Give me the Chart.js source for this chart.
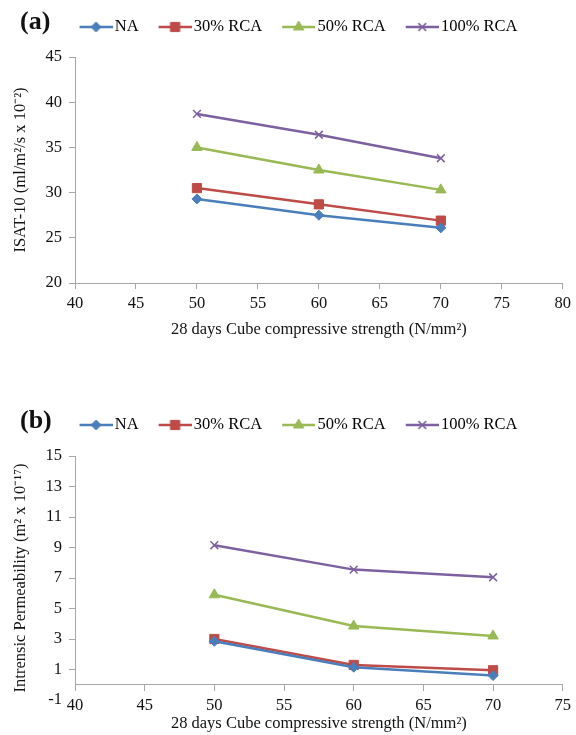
<!DOCTYPE html>
<html>
<head>
<meta charset="utf-8">
<script src="https://cdn.jsdelivr.net/npm/chart.js@4.4.1/dist/chart.umd.min.js"></script>
<style>
  html, body { margin: 0; padding: 0; background: #fff; }
  body { width: 576px; height: 735px; position: relative; overflow: hidden; font-family: 'Liberation Serif', 'Times New Roman', serif; }
  .panel { position: absolute; left: 0; width: 576px; }
  .tag { position: absolute; left: 20px; font-weight: bold; font-size: 26px; line-height: 26px; color: #111; }
</style>
</head>
<body>
<div class="panel" style="top:0;height:370px">
  <canvas id="isat"></canvas>
  <div class="tag" style="top:8px">(a)</div>
</div>
<div class="panel" style="top:398px;height:337px">
  <canvas id="perm"></canvas>
  <div class="tag" style="top:9px">(b)</div>
</div>
<script>
// cube strength at 28 days (N/mm2)
const strength = [50, 60, 70];
const mixNames = ['NA', '30% RCA', '50% RCA', '100% RCA'];

// ISAT-10 (ml/m2/s x 10^-2)
const isatNA = [29.3, 27.5, 26.1];
const isat30 = [30.5, 28.7, 26.9];
const isat50 = [35.0, 32.5, 30.3];
const isat100 = [38.7, 36.4, 33.8];

// intrinsic permeability (m2 x 10^-17)
const permNA = [2.85, 1.15, 0.6];
const perm30 = [3.0, 1.3, 0.95];
const perm50 = [5.9, 3.85, 3.2];
const perm100 = [9.15, 7.55, 7.05];

const isatTicks = [20, 25, 30, 35, 40, 45];
const permTicks = [-1, 1, 3, 5, 7, 9, 11, 13, 15];

const AXIS = '#a6a6a6';
const TEXT = '#111';
const FONT = "'Liberation Serif', 'Times New Roman', serif";
const FS = 16.5;
const HALF_LINE = FS * 1.2 / 2;
const PAD_LEFT = 18;
const Y_AXIS_W = 57;

Chart.defaults.font.family = FONT;
Chart.defaults.font.size = FS;
Chart.defaults.color = TEXT;

const styles = [
  { color: '#4A7EBB', pointStyle: 'rectRot', radius: 5, borderWidth: 1 },
  { color: '#BE4B48', pointStyle: 'rect', radius: 6.5, borderWidth: 1 },
  { color: '#98B954', pointStyle: 'triangle', radius: 6, borderWidth: 1 },
  { color: '#7D60A0', pointStyle: 'crossRot', radius: 5.5, borderWidth: 1.5 }
];

// legend swatch: short line with the marker in the middle
const ICON_BOX = 37, ICON_W = 49, ICON_H = 16, LINE_LEN = 33;
function legendIcon(st) {
  const c = document.createElement('canvas');
  c.width = ICON_W;
  c.height = ICON_H;
  const ctx = c.getContext('2d');
  ctx.strokeStyle = st.color;
  ctx.lineWidth = 2.5;
  ctx.beginPath();
  ctx.moveTo(ICON_W - LINE_LEN, ICON_H / 2);
  ctx.lineTo(ICON_W, ICON_H / 2);
  ctx.stroke();
  ctx.fillStyle = st.color;
  ctx.lineWidth = st.borderWidth;
  Chart.helpers.drawPoint(ctx, { pointStyle: st.pointStyle, radius: st.radius, rotation: 0, borderWidth: st.borderWidth },
    ICON_W - LINE_LEN / 2, ICON_H / 2);
  return c;
}
const icons = styles.map(legendIcon);

function makeDatasets(series) {
  return series.map((vals, i) => ({
    label: mixNames[i],
    data: strength.map((x, j) => ({ x: x, y: vals[j] })),
    borderColor: styles[i].color,
    backgroundColor: styles[i].color,
    borderWidth: 2.5,
    tension: 0,
    pointStyle: styles[i].pointStyle,
    pointRadius: styles[i].radius,
    pointBorderWidth: styles[i].borderWidth,
    pointBackgroundColor: styles[i].color,
    pointBorderColor: styles[i].color
  }));
}

function legendOptions() {
  return {
    position: 'top',
    align: 'center',
    labels: {
      usePointStyle: true,
      pointStyleWidth: ICON_BOX,
      padding: 10,
      font: { size: FS },
      color: TEXT,
      generateLabels: chart => chart.data.datasets.map((ds, i) => ({
        text: ds.label,
        pointStyle: icons[i],
        datasetIndex: i,
        hidden: false,
        lineWidth: 0,
        fillStyle: ds.borderColor,
        strokeStyle: ds.borderColor
      }))
    }
  };
}

// empty subtitle used as a gap between legend and plot
function spacer(h) {
  return { display: true, text: '', position: 'top', weight: 100, padding: 0, font: { size: 10, lineHeight: h / 10 } };
}

function tickGrid(hideValue) {
  return {
    display: true,
    drawOnChartArea: false,
    drawTicks: true,
    tickLength: 6,
    color: ctx => (ctx.tick && ctx.tick.value === hideValue) ? 'rgba(0,0,0,0)' : AXIS
  };
}

// y title centre sits about 21px from the left edge
const yTitlePad = { top: 21 - PAD_LEFT - HALF_LINE, bottom: 0 };

new Chart(document.getElementById('isat'), {
  type: 'line',
  data: { datasets: makeDatasets([isatNA, isat30, isat50, isat100]) },
  options: {
    responsive: true,
    maintainAspectRatio: false,
    animation: false,
    layout: { padding: { top: 8.75, left: PAD_LEFT, right: 7, bottom: 27 } },
    plugins: {
      legend: legendOptions(),
      subtitle: spacer(11.75),
      tooltip: { enabled: false }
    },
    scales: {
      x: {
        type: 'linear',
        min: 40, max: 80,
        ticks: { stepSize: 5, padding: 5, maxRotation: 0 },
        grid: tickGrid(null),
        border: { display: true, color: AXIS, width: 1 },
        title: { display: true, text: '28 days Cube compressive strength (N/mm²)', padding: { top: 0, bottom: 3 } },
        afterFit: s => { s.height = 60; }
      },
      y: {
        min: 20, max: 45,
        afterBuildTicks: s => { s.ticks = isatTicks.map(v => ({ value: v })); },
        ticks: { padding: 7 },
        grid: tickGrid(null),
        border: { display: true, color: AXIS, width: 1 },
        title: { display: true, text: 'ISAT-10 (ml/m²/s x 10⁻²)', padding: yTitlePad },
        afterFit: s => { s.width = Y_AXIS_W; }
      }
    }
  }
});

// vertical axis line only runs down to the zero line
const yAxisToZero = {
  id: 'yAxisToZero',
  afterDraw(chart) {
    const { ctx, chartArea, scales } = chart;
    const y = scales.y;
    const x0 = Math.round(chartArea.left) + 0.5;
    ctx.save();
    ctx.strokeStyle = AXIS;
    ctx.lineWidth = 1;
    ctx.beginPath();
    ctx.moveTo(x0, y.getPixelForValue(y.max));
    ctx.lineTo(x0, y.getPixelForValue(0));
    ctx.stroke();
    ctx.restore();
  }
};

new Chart(document.getElementById('perm'), {
  type: 'line',
  data: { datasets: makeDatasets([permNA, perm30, perm50, perm100]) },
  options: {
    responsive: true,
    maintainAspectRatio: false,
    animation: false,
    layout: { padding: { top: 8.75, left: PAD_LEFT, right: 7, bottom: 35 } },
    plugins: {
      legend: legendOptions(),
      subtitle: spacer(12.75),
      tooltip: { enabled: false }
    },
    scales: {
      x: {
        type: 'linear',
        position: { y: 0 },
        min: 40, max: 75,
        ticks: { stepSize: 5, padding: 5, maxRotation: 0 },
        grid: tickGrid(null),
        border: { display: true, color: AXIS, width: 1 },
        title: { display: true, text: '28 days Cube compressive strength (N/mm²)', padding: { top: 0, bottom: 11 } },
        afterFit: s => { s.height = 60; }
      },
      y: {
        min: -1, max: 15,
        afterBuildTicks: s => { s.ticks = permTicks.map(v => ({ value: v })); },
        ticks: { padding: 7 },
        grid: tickGrid(-1),
        border: { display: false },
        title: { display: true, text: 'Intrensic Permeability (m² x 10⁻¹⁷)', padding: yTitlePad },
        afterFit: s => { s.width = Y_AXIS_W; }
      }
    }
  },
  plugins: [yAxisToZero]
});
</script>
</body>
</html>
